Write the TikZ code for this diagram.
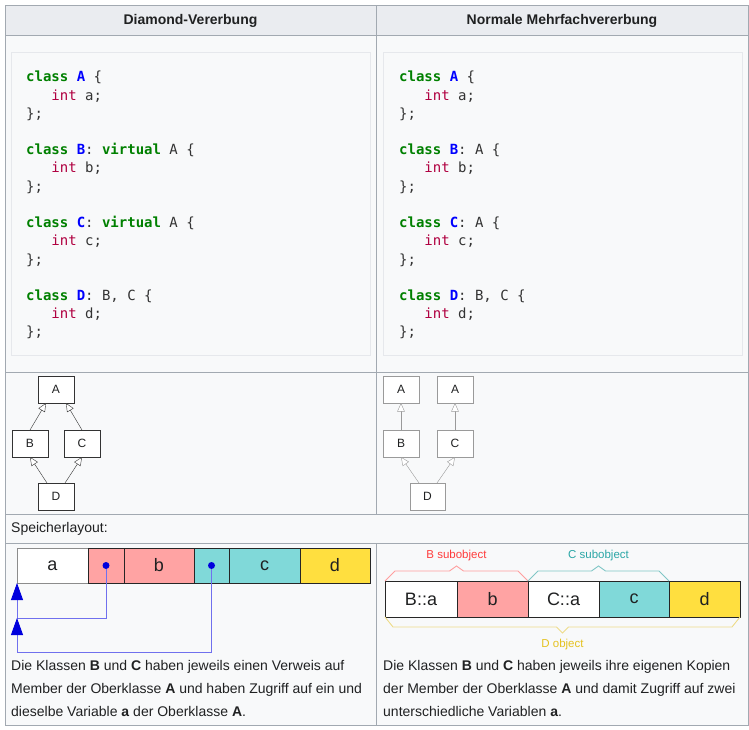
\documentclass[tikz,border=0pt]{standalone}
\usepackage{fontspec}
\setmainfont{Liberation Sans}
\newfontfamily\codefont{DejaVu Sans Mono}
\usetikzlibrary{arrows.meta,positioning,calc}

\definecolor{tblborder}{HTML}{A2A9B1}
\definecolor{headfill}{HTML}{EAECF0}
\definecolor{cellfill}{HTML}{F8F9FA}
\definecolor{codeborder}{HTML}{E6E8EC}
\definecolor{txt}{HTML}{202122}
\definecolor{kwgreen}{HTML}{008000}
\definecolor{nameblue}{HTML}{0000FF}
\definecolor{typered}{HTML}{B00040}
\definecolor{codetxt}{HTML}{333333}
\definecolor{umldark}{HTML}{333333}
\definecolor{umlgray}{HTML}{9A9A9A}
\definecolor{memred}{HTML}{FFA3A3}
\definecolor{memcyan}{HTML}{80D9D9}
\definecolor{memyellow}{HTML}{FFDF3F}
\definecolor{ptrline}{HTML}{7070EE}
\definecolor{ptrhead}{HTML}{0000DD}
\definecolor{bline}{HTML}{FF9E9E}
\definecolor{btext}{HTML}{FF3B3B}
\definecolor{cline}{HTML}{80C6C6}
\definecolor{ctext}{HTML}{2AA6A6}
\definecolor{dline}{HTML}{EEDC8A}
\definecolor{dtext}{HTML}{E5C21F}

\newcommand{\ckw}[1]{\textcolor{kwgreen}{\bfseries #1}}
\newcommand{\cname}[1]{\textcolor{nameblue}{\bfseries #1}}
\newcommand{\ctype}[1]{\textcolor{typered}{#1}}
\newcommand{\cind}{\phantom{xxx}}

\begin{document}
\begin{tikzpicture}[x=1pt,y=-1pt,
    every node/.style={font=\fontsize{14}{17}\selectfont,text=txt},
    grid/.style={draw=tblborder,line width=1pt},
    codebox/.style={draw=codeborder,fill=cellfill,line width=1pt},
    codeline/.style={font=\codefont\fontsize{14}{17}\selectfont,text=codetxt,anchor=base west,inner sep=0},
    umlbox/.style={draw=#1,fill=white,minimum width=36pt,minimum height=27pt,inner sep=0,outer sep=0,font=\fontsize{12}{12}\selectfont},
    umlbox/.default=umldark,
    inherit/.style={draw=#1,-{Triangle[open,length=8.5pt,width=7.5pt,fill=white]}},
    inherit/.default=umldark,
    memcell/.style={draw=black!85,fill=white,minimum height=35pt,inner sep=0,outer sep=0,font=\fontsize{18}{18}\selectfont},
    ptrdot/.style={circle,fill=ptrhead,inner sep=0,minimum size=7pt},
    ptr/.style={draw=ptrline,line width=0.8pt},
    ptrtip/.style={-{Triangle[length=17pt,width=12pt,color=ptrhead]}},
    brace/.style={line width=0.9pt},
    bracelabel/.style={inner sep=0,font=\fontsize{11.5}{12}\selectfont}
]

\path[use as bounding box,fill=white] (0,0) rectangle (749,730);

% table cells
\fill[cellfill] (5,6) rectangle (748,725);
\fill[headfill] (5,6) rectangle (748,36);
\draw[grid] (5,6) rectangle (748,725);
\draw[grid] (5,36) -- (748,36);
\draw[grid] (5,372) -- (748,372);
\draw[grid] (5,514) -- (748,514);
\draw[grid] (5,543) -- (748,543);
\draw[grid] (376,6) -- (376,514);
\draw[grid] (376,543) -- (376,725);

% header
\node[font=\bfseries\fontsize{14}{17}\selectfont] (hdiamond) at (190.5,21) {Diamond-Vererbung};
\node[font=\bfseries\fontsize{14}{17}\selectfont] (hnormal) at (562,21) {Normale Mehrfachvererbung};

% source code
\draw[codebox] (11,53) rectangle (370,355);
\draw[codebox] (383,53) rectangle (742,355);

\foreach \k/\srcline in {0/{\ckw{class} \cname{A} \{},1/{\cind\ctype{int} a;},2/{\};},
    4/{\ckw{class} \cname{B}: \ckw{virtual} A \{},5/{\cind\ctype{int} b;},6/{\};},
    8/{\ckw{class} \cname{C}: \ckw{virtual} A \{},9/{\cind\ctype{int} c;},10/{\};},
    12/{\ckw{class} \cname{D}: B, C \{},13/{\cind\ctype{int} d;},14/{\};}}
  \node[codeline] (dcode\k) at (26,82+18.2*\k) {\srcline};

\foreach \k/\srcline in {0/{\ckw{class} \cname{A} \{},1/{\cind\ctype{int} a;},2/{\};},
    4/{\ckw{class} \cname{B}: A \{},5/{\cind\ctype{int} b;},6/{\};},
    8/{\ckw{class} \cname{C}: A \{},9/{\cind\ctype{int} c;},10/{\};},
    12/{\ckw{class} \cname{D}: B, C \{},13/{\cind\ctype{int} d;},14/{\};}}
  \node[codeline] (ncode\k) at (399,82+18.2*\k) {\srcline};

% class diagrams
\node[umlbox] (da) at (56,389.5) {A};
\node[umlbox,below left=27pt and -10pt of da] (db) {B};
\node[umlbox,below right=27pt and -10pt of da] (dc) {C};
\node[umlbox,below right=26pt and -10pt of db] (dd) {D};

\draw[inherit] (db.north) -- ([xshift=-10pt]da.south);
\draw[inherit] (dc.north) -- ([xshift=10pt]da.south);
\draw[inherit] ([xshift=-9pt]dd.north) -- (db.south);
\draw[inherit] ([xshift=9pt]dd.north) -- (dc.south);

\node[umlbox=umlgray] (na1) at (401,389.5) {A};
\node[umlbox=umlgray,right=18pt of na1] (na2) {A};
\node[umlbox=umlgray,below=27pt of na1] (nb) {B};
\node[umlbox=umlgray,below=27pt of na2] (nc) {C};
\node[umlbox=umlgray,minimum width=35pt,below right=26pt and -9pt of nb] (nd) {D};

\draw[inherit=umlgray] (nb) -- (na1);
\draw[inherit=umlgray] (nc) -- (na2);
\draw[inherit=umlgray] ([xshift=-8.5pt]nd.north) -- (nb.south);
\draw[inherit=umlgray] ([xshift=9.5pt]nd.north) -- (nc.south);

% memory layout
\node[anchor=west,inner sep=0] (speicher) at (11,529) {Speicherlayout:};

\node[memcell,draw=black!45,minimum width=71pt] (ma) at (52.5,565.5) {a};
\node[memcell,fill=memred,minimum width=36pt,right=0pt of ma] (mpb) {};
\node[memcell,fill=memred,minimum width=70pt,right=0pt of mpb] (mb) {b};
\node[memcell,fill=memcyan,minimum width=35pt,right=0pt of mb] (mpc) {};
\node[memcell,fill=memcyan,minimum width=71pt,right=0pt of mpc] (mc) {c};
\node[memcell,fill=memyellow,minimum width=70pt,right=0pt of mc] (md) {d};

\node[ptrdot] (dotb) at (mpb.center) {};
\node[ptrdot] (dotc) at (mpc.center) {};
\coordinate (jb) at ([yshift=-35pt]ma.south west);
\coordinate (jc) at ([yshift=-69pt]ma.south west);
\draw[ptr] (dotb) |- (jb);
\draw[ptr,ptrtip] (jb) -- (ma.south west);
\draw[ptr] (dotc) |- (jc);
\draw[ptr,ptrtip] (jc) -- (jb);

\node[memcell,minimum width=72pt,minimum height=36pt] (mba) at (421,599) {B::a};
\node[memcell,fill=memred,minimum width=71pt,minimum height=36pt,right=0pt of mba] (mbb) {b};
\node[memcell,minimum width=71pt,minimum height=36pt,right=0pt of mbb] (mca) {C::a};
\node[memcell,fill=memcyan,minimum width=70pt,minimum height=36pt,right=0pt of mca] (mcc) {c};
\node[memcell,fill=memyellow,minimum width=71pt,minimum height=36pt,right=0pt of mcc] (mdd) {d};

\draw[brace,bline] (mba.north west) -- ++(10,-10)
  -- ($(mba.north west)!.5!(mbb.north east)+(-7,-10)$) -- ++(7,-5) -- ++(7,5)
  -- ($(mbb.north east)+(-10,-10)$) -- (mbb.north east);
\draw[brace,cline] (mca.north west) -- ++(10,-10)
  -- ($(mca.north west)!.5!(mcc.north east)+(-7,-10)$) -- ++(7,-5) -- ++(7,5)
  -- ($(mcc.north east)+(-10,-10)$) -- (mcc.north east);
\draw[brace,dline] (mba.south west) -- ++(8,10)
  -- ($(mba.south west)!.5!(mdd.south east)+(-6,10)$) -- ++(6,6) -- ++(6,-6)
  -- ($(mdd.south east)+(-8,10)$) -- (mdd.south east);

\node[bracelabel,text=btext] (bsub) at ($(mba.north west)!.5!(mbb.north east)+(0,-25)$) {B subobject};
\node[bracelabel,text=ctext] (csub) at ($(mca.north west)!.5!(mcc.north east)+(0,-25)$) {C subobject};
\node[bracelabel,text=dtext] (dobj) at ($(mba.south west)!.5!(mdd.south east)+(0,28)$) {D object};

% descriptions
\node[anchor=north west,align=left,inner sep=0,font=\fontsize{14}{23}\selectfont] (dtext) at (11,660)
  {Die Klassen \textbf{B} und \textbf{C} haben jeweils einen Verweis auf\\
   Member der Oberklasse \textbf{A} und haben Zugriff auf ein und\\
   dieselbe Variable \textbf{a} der Oberklasse \textbf{A}.};
\node[anchor=north west,align=left,inner sep=0,font=\fontsize{14}{23}\selectfont] (ntext) at (383,660)
  {Die Klassen \textbf{B} und \textbf{C} haben jeweils ihre eigenen Kopien\\
   der Member der Oberklasse \textbf{A} und damit Zugriff auf zwei\\
   unterschiedliche Variablen \textbf{a}.};

\end{tikzpicture}
\end{document}
